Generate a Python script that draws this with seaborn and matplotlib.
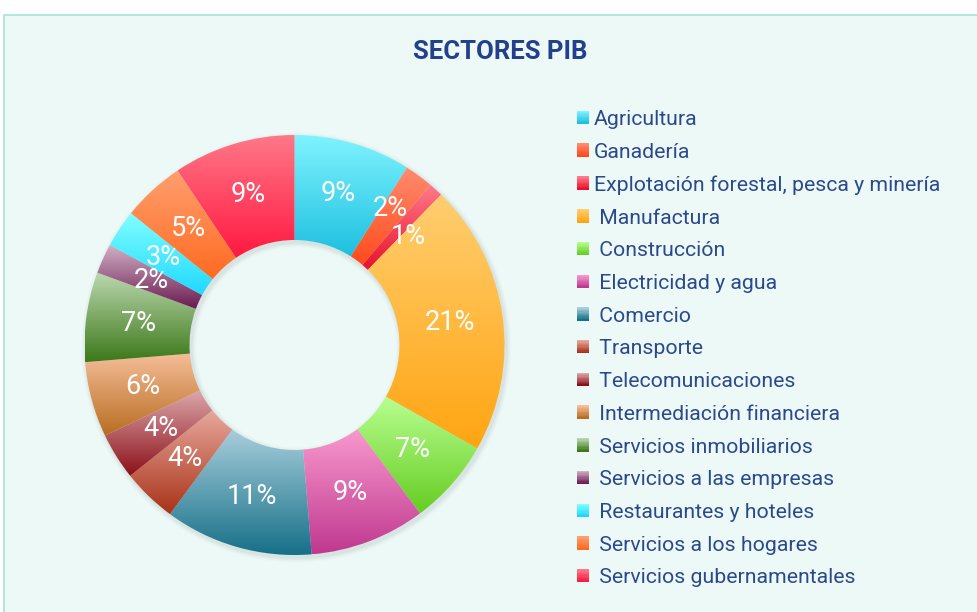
"""Donut chart of GDP sectors with gradient-filled wedges."""
import numpy as np
import matplotlib
matplotlib.use("Agg")
import matplotlib.pyplot as plt
import seaborn as sns
from matplotlib.colors import to_rgb
from matplotlib.patches import Rectangle, Wedge
from matplotlib.legend_handler import HandlerBase

sectors = [
    "Agricultura", "Ganadería", "Explotación forestal, pesca y minería",
    " Manufactura", " Construcción", " Electricidad y agua", " Comercio",
    " Transporte", " Telecomunicaciones", " Intermediación financiera",
    " Servicios inmobiliarios", " Servicios a las empresas",
    " Restaurantes y hoteles", " Servicios a los hogares",
    " Servicios gubernamentales",
]
shares = [9.0, 2.2, 1.1, 20.9, 6.6, 8.9, 11.4, 4.2, 3.6, 5.8, 6.9, 2.3, 2.9, 4.8, 9.4]
top_colors = ["#80F4FF", "#FF8C70", "#FF7A8A", "#FFCE70", "#B8FF90", "#F89ACE",
              "#A8CEDC", "#E8A89C", "#DCA8AC", "#F5BE98", "#BCD8B0", "#D0B0C4",
              "#80FFFF", "#FFA070", "#FF7888"]
bottom_colors = ["#1DC0E0", "#FF4A1A", "#E8102A", "#FFA512", "#66CC22", "#C0388F",
                 "#167088", "#A83218", "#8C1018", "#B86C20", "#3C7818", "#6A1A50",
                 "#20D8FF", "#FF6A20", "#FF1840"]
# the two thin slices get their labels nudged (radius, degrees clockwise from top)
label_nudge = {1: (0.795, 34.9), 2: (0.746, 46.4)}

TEXT_BLUE = "#2B4A8E"
PANEL_BG = "#EDF9F6"

sns.set_theme(style="white")
plt.rcParams["font.family"] = ["Roboto", "DejaVu Sans"]

W, H = 977, 612
fig = plt.figure(figsize=(W / 100, H / 100), dpi=100)
fig.patch.set_facecolor("white")

# panel background with border
fig.patches.append(Rectangle((4 / W, -0.01), 1.0, 1 - 15 / H + 0.01,
                             transform=fig.transFigure, facecolor=PANEL_BG,
                             edgecolor="#A6E3D6", linewidth=1.2, zorder=-1))

# donut axes: centre (294.5, 345) px, outer radius 210 px
R = 210
cx, cy = 294.5, 345
half = R * 1.05
ax = fig.add_axes([(cx - half) / W, (H - cy - half) / H, 2 * half / W, 2 * half / H])
ax.set_facecolor("none")

wedges, _, autotexts = ax.pie(
    shares, startangle=90, counterclock=False, radius=1,
    wedgeprops=dict(width=0.5, linewidth=0), autopct="%1.0f%%", pctdistance=0.75,
    textprops=dict(color="white", fontsize=19.5),
)

# soft shadow under the ring
for i, a in enumerate([0.05, 0.04, 0.03, 0.02]):
    ax.add_patch(Wedge((0.008, -0.012), 1.0 + 0.006 * (i + 1), 0, 360,
                       width=0.5 + 0.012 * (i + 1), facecolor="#5a6e6a",
                       alpha=a, linewidth=0, zorder=0.5))


def gradient(top, bottom, n=256):
    t = np.linspace(0, 1, n)[:, None]
    c0, c1 = np.array(to_rgb(top)), np.array(to_rgb(bottom))
    return (c0 * (1 - t) + c1 * t)[:, None, :]


for w, ctop, cbot in zip(wedges, top_colors, bottom_colors):
    th = np.radians(np.linspace(w.theta1, w.theta2, 200))
    xs = np.concatenate([np.cos(th), 0.5 * np.cos(th)])
    ys = np.concatenate([np.sin(th), 0.5 * np.sin(th)])
    img = ax.imshow(gradient(ctop, cbot), extent=[xs.min(), xs.max(), ys.min(), ys.max()],
                    origin="upper", aspect="auto", zorder=1.5, interpolation="bilinear")
    img.set_clip_path(w)
    w.set_facecolor("none")

for i, t in enumerate(autotexts):
    t.set_zorder(3)
    if i in label_nudge:
        r, deg = label_nudge[i]
        t.set_position((r * np.sin(np.radians(deg)), r * np.cos(np.radians(deg))))

ax.set_xlim(-1.05, 1.05)
ax.set_ylim(-1.05, 1.05)
ax.set_aspect("equal")
ax.axis("off")


class GradientSquare(HandlerBase):
    def create_artists(self, legend, orig_handle, xdescent, ydescent,
                       width, height, fontsize, trans):
        n = 10
        x0, y0 = -xdescent, -ydescent
        grad = gradient(orig_handle.top, orig_handle.bottom, n)[:, 0, :]
        arts = []
        for i in range(n):
            r = Rectangle((x0, y0 + height * (n - 1 - i) / n), width, height / n + 0.3,
                          facecolor=grad[i], edgecolor="none", transform=trans)
            arts.append(r)
        return arts


handles = []
for ctop, cbot in zip(top_colors, bottom_colors):
    h = Rectangle((0, 0), 1, 1)
    h.top, h.bottom = ctop, cbot
    handles.append(h)

fs = 15.3
leg = fig.legend(handles, sectors, loc="upper left",
                 bbox_to_anchor=(577 / W, 1 - 110 / H), frameon=False,
                 fontsize=fs, handlelength=0.57, handleheight=0.57,
                 handletextpad=0.22, labelspacing=0.645, borderpad=0,
                 borderaxespad=0,
                 handler_map={Rectangle: GradientSquare()})
for txt in leg.get_texts():
    txt.set_color(TEXT_BLUE)

fig.text(500 / W, 1 - 52 / H, "SECTORES PIB", ha="center", va="center",
         fontsize=18.5, fontweight="semibold", color="#23408C")

fig.savefig("out.png", dpi=100)
